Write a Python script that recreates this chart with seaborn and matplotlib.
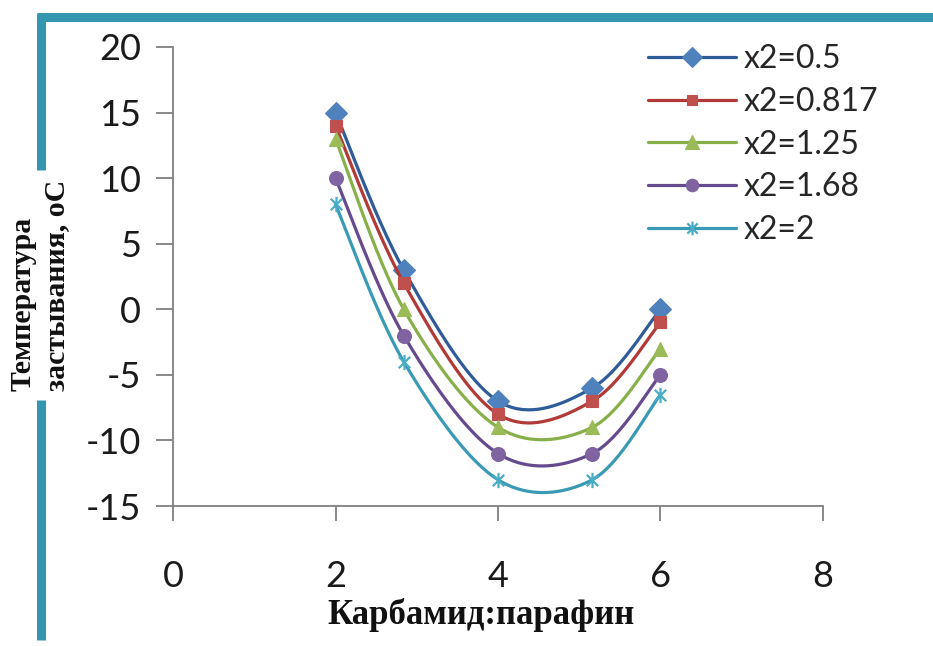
import numpy as np
import pandas as pd
import matplotlib
matplotlib.use("Agg")
import matplotlib.pyplot as plt
from matplotlib.lines import Line2D
from matplotlib.path import Path
import seaborn as sns

# Carbamide:paraffin ratio (x1 levels) and pour point for each x2 level
ratio = [2.0, 2.84, 4.0, 5.16, 6.0]
series_names = ["x2=0.5", "x2=0.817", "x2=1.25", "x2=1.68", "x2=2"]
t_x2_05 = [15, 3, -7, -6, 0]
t_x2_0817 = [14, 2, -8, -7, -1]
t_x2_125 = [13, 0, -9, -9, -3]
t_x2_168 = [10, -2, -11, -11, -5]
t_x2_2 = [8, -4, -13, -13, -6.5]
values = [t_x2_05, t_x2_0817, t_x2_125, t_x2_168, t_x2_2]

x_ticks = [0, 2, 4, 6, 8]
y_ticks = [-15, -10, -5, 0, 5, 10, 15, 20]

line_colors = ["#2F5C99", "#B13A37", "#88B04A", "#664A8E", "#3A9AB5"]
marker_colors = ["#4F81BD", "#C0504D", "#9BBB59", "#8064A2", "#4BACC6"]

star = Path([(0, -1), (0, 1), (-0.75, -0.75), (0.75, 0.75), (-0.75, 0.75), (0.75, -0.75)],
            [Path.MOVETO, Path.LINETO, Path.MOVETO, Path.LINETO, Path.MOVETO, Path.LINETO])
markers = ["D", "s", "^", "o", star]
msizes = [11, 8.5, 10.5, 10, 11]


def smooth_curve(xs, ys, n=40):
    """Bezier smoothing through the points (Catmull-Rom style control points)."""
    p = np.column_stack([xs, ys]).astype(float)
    ext = np.vstack([p[0], p, p[-1]])
    out = []
    t = np.linspace(0, 1, n)[:, None]
    for i in range(len(p) - 1):
        p0, p1, p2, p3 = ext[i], ext[i + 1], ext[i + 2], ext[i + 3]
        b1 = p1 + (p2 - p0) / 6.0
        b2 = p2 - (p3 - p1) / 6.0
        seg = ((1 - t) ** 3) * p1 + 3 * ((1 - t) ** 2) * t * b1 + 3 * (1 - t) * t ** 2 * b2 + t ** 3 * p2
        out.append(seg if i == 0 else seg[1:])
    return np.vstack(out)


sns.set_theme(style="white")
plt.rcParams["font.family"] = ["Lato", "DejaVu Sans"]

fig = plt.figure(figsize=(9.33, 6.46), dpi=100)
ax = fig.add_axes([173 / 933, 1 - 506 / 646, 650 / 933, 459 / 646])

for i, name in enumerate(series_names):
    curve = smooth_curve(ratio, values[i])
    df_curve = pd.DataFrame({"x": curve[:, 0], "y": curve[:, 1]})
    sns.lineplot(data=df_curve, x="x", y="y", sort=False, estimator=None,
                 color=line_colors[i], linewidth=2.3, ax=ax, zorder=3 + 2 * i)
    df_pts = pd.DataFrame({"x": ratio, "y": values[i]})
    is_star = i == 4
    sns.lineplot(data=df_pts, x="x", y="y", sort=False, estimator=None,
                 linestyle="", marker=markers[i], markersize=msizes[i],
                 markerfacecolor=marker_colors[i] if not is_star else "none",
                 markeredgecolor=marker_colors[i],
                 markeredgewidth=1.6 if is_star else 0.8,
                 color=marker_colors[i], ax=ax, zorder=4 + 2 * i)

ax.set_xlim(0, 8)
ax.set_ylim(-15, 20)
ax.set_xticks(x_ticks)
ax.set_yticks(y_ticks)
ax.set_xticklabels([str(v) for v in x_ticks])
ax.set_yticklabels([str(v) for v in y_ticks])
ax.set_xlabel("")
ax.set_ylabel("")

for side in ["top", "right"]:
    ax.spines[side].set_visible(False)
for side in ["left", "bottom"]:
    ax.spines[side].set_color("#7F7F7F")
    ax.spines[side].set_linewidth(1.3)

ax.tick_params(axis="y", direction="out", length=12, width=1.3, color="#7F7F7F",
               pad=11, labelsize=26, labelcolor="#1A1A1A", left=True)
ax.tick_params(axis="x", direction="out", length=11, width=1.3, color="#7F7F7F",
               pad=28, labelsize=26, labelcolor="#1A1A1A", bottom=True)

# Legend: line with marker in the middle
handles = []
for i, name in enumerate(series_names):
    is_star = i == 4
    handles.append(Line2D([0], [0], color=line_colors[i], linewidth=2.3,
                          marker=markers[i], markersize=msizes[i] * 0.9,
                          markerfacecolor=marker_colors[i] if not is_star else "none",
                          markeredgecolor=marker_colors[i],
                          markeredgewidth=1.6 if is_star else 0.8))
leg = fig.legend(handles=handles, labels=series_names, loc="upper left",
                 bbox_to_anchor=(648 / 933, 1 - 44 / 646), frameon=False,
                 fontsize=23, handlelength=2.75, handletextpad=0.25,
                 labelspacing=0.4, numpoints=1, borderaxespad=0, borderpad=0)

# Axis titles
fig.text(481 / 933, 1 - 615 / 646, "Карбамид:парафин", ha="center", va="center",
         fontsize=25, fontweight="bold", family=["Liberation Serif", "DejaVu Serif"],
         color="#111111")

# Frame bars on the top and left edges
bar_color = "#3596B0"
bar_w = 6.5
fig.add_artist(Line2D([37 / 933, 1.0], [1 - 17 / 646, 1 - 17 / 646],
                      transform=fig.transFigure, color=bar_color, linewidth=bar_w,
                      solid_capstyle="butt"))
fig.add_artist(Line2D([40.5 / 933, 40.5 / 933], [1 - 14 / 646, 1 - 170 / 646],
                      transform=fig.transFigure, color=bar_color, linewidth=bar_w,
                      solid_capstyle="butt"))
fig.add_artist(Line2D([40.5 / 933, 40.5 / 933], [1 - 400 / 646, 1 - 640 / 646],
                      transform=fig.transFigure, color=bar_color, linewidth=bar_w,
                      solid_capstyle="butt"))

fig.text(40 / 933, 1 - 391 / 646, "Температура\nзастывания, оС", rotation=90,
         ha="center", va="bottom", multialignment="left", fontsize=21.5,
         fontweight="bold", family=["Liberation Serif", "DejaVu Serif"],
         color="#111111", linespacing=1.3)

fig.savefig("out.png", dpi=100, facecolor="white")
